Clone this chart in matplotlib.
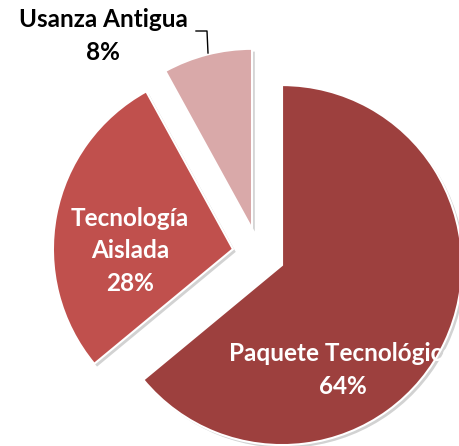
import matplotlib
matplotlib.use('Agg')
import matplotlib.pyplot as plt
import matplotlib.patheffects as pe

# Slices in drawing order, clockwise from the top
categories = ['Paquete Tecnológico', 'Tecnología Aislada', 'Usanza Antigua']
shares = [64, 28, 8]
colors = ['#9D403E', '#C0504D', '#D9A9A9']

# Label text (the two inside labels break over lines as in the original)
label_text = ['Paquete Tecnológico\n64%', 'Tecnología\nAislada\n28%',
              'Usanza Antigua\n8%']

W, H = 460, 446
fig = plt.figure(figsize=(W / 100, H / 100), dpi=100)
ax = fig.add_axes([0, 0, 1, 1])

# explode is an absolute offset here (data units = pixels)
wedges, _ = ax.pie(shares, colors=colors, startangle=90, counterclock=False,
                   explode=[26, 26, 26], radius=180,
                   center=(258.5, H - 254),
                   wedgeprops=dict(edgecolor='white', linewidth=1.5))

for w in wedges:
    w.set_path_effects([pe.SimplePatchShadow(offset=(2, -2),
                                             shadow_rgbFace='#808080',
                                             alpha=0.35),
                        pe.Normal()])

ax.set_xlim(0, W)
ax.set_ylim(0, H)
ax.set_aspect('equal', adjustable='box')
ax.axis('off')

font = dict(family=['Lato', 'DejaVu Sans'], fontsize=17.5, fontweight='bold',
            ha='center', va='center', linespacing=1.5)

ax.text(343, H - 370, label_text[0], color='white', **font)
ax.text(130, H - 251, label_text[1], color='white', **font)
ax.text(103, H - 36, label_text[2], color='black', **font)

# leader line for the outside label
ax.plot([196, 207, 208], [H - 31, H - 31, H - 53], color='black', lw=1)

fig.savefig('out.png', dpi=100)
